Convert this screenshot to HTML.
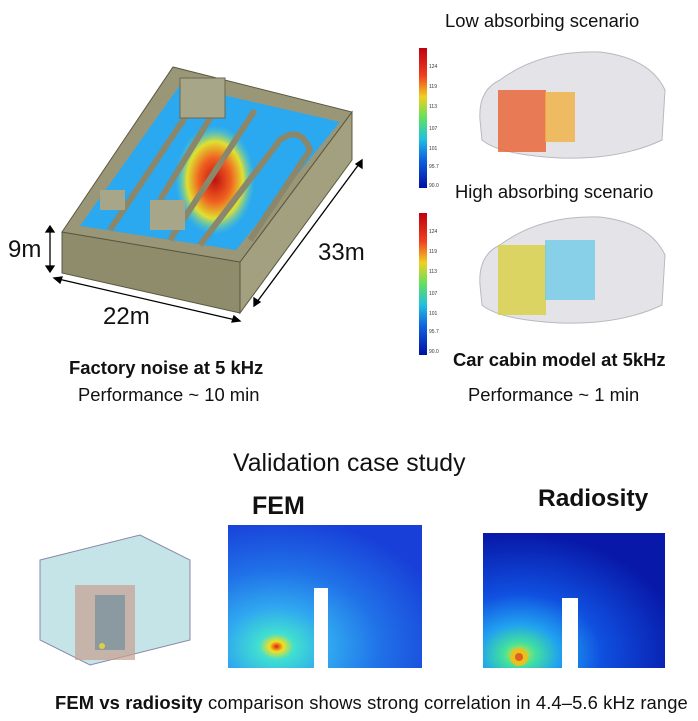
<!DOCTYPE html>
<html><head><style>
html,body{margin:0;padding:0;background:#fff;}
body{width:698px;height:721px;position:relative;overflow:hidden;font-family:"Liberation Sans",Arial,sans-serif;color:#111;}
.t{position:absolute;white-space:nowrap;line-height:1;}
</style></head><body>
<svg width="698" height="721" style="position:absolute;left:0;top:0">
<defs>
<linearGradient id="cb" x1="0" y1="0" x2="0" y2="1">
<stop offset="0" stop-color="#c00010"/><stop offset="0.2" stop-color="#f04020"/><stop offset="0.35" stop-color="#f0d020"/><stop offset="0.5" stop-color="#60e060"/><stop offset="0.65" stop-color="#20c0e0"/><stop offset="0.8" stop-color="#1060e0"/><stop offset="1" stop-color="#0010a0"/>
</linearGradient>
<radialGradient id="fem" cx="0.25" cy="0.85" r="0.9">
<stop offset="0" stop-color="#e02010"/><stop offset="0.04" stop-color="#f0e020"/><stop offset="0.1" stop-color="#40e0d0"/><stop offset="0.3" stop-color="#30a8f0"/><stop offset="0.6" stop-color="#2070e8"/><stop offset="1" stop-color="#1840d8"/>
</radialGradient>
<radialGradient id="rad" cx="0.2" cy="0.9" r="0.9">
<stop offset="0" stop-color="#f0e020"/><stop offset="0.1" stop-color="#40e0a0"/><stop offset="0.25" stop-color="#20a0f0"/><stop offset="0.5" stop-color="#1050e0"/><stop offset="1" stop-color="#0818a8"/>
</radialGradient>
<radialGradient id="hot" cx="0.5" cy="0.5" r="0.5">
<stop offset="0" stop-color="#c01010"/><stop offset="0.4" stop-color="#f06020"/><stop offset="0.7" stop-color="#e0e030"/><stop offset="1" stop-color="#50d0c0" stop-opacity="0"/>
</radialGradient>
</defs>
<polygon points="62,232 240,262 240,313 62,273" fill="#8f8c6c" stroke="#5a5840"/>
<polygon points="240,262 352,112 352,160 240,313" fill="#a3a080" stroke="#5a5840"/>
<polygon points="62,232 173,67 352,112 240,262" fill="#9a9778" stroke="#5a5840"/>
<polygon points="80,226 180,85 340,122 236,250" fill="#2aa8f0"/>
<ellipse cx="215" cy="180" rx="40" ry="55" fill="url(#hot)"/>
<g stroke="#8a876a" stroke-width="6" fill="none">
<path d="M110,230 L190,110 Q200,95 215,110 L160,200"/>
<path d="M170,240 L255,110"/>
<path d="M200,245 L280,140 Q300,125 310,150 L250,240"/>
</g>
<rect x="180" y="78" width="45" height="40" fill="#a8a688" stroke="#6a6850"/>
<rect x="150" y="200" width="35" height="30" fill="#a8a688"/>
<rect x="100" y="190" width="25" height="20" fill="#a8a688"/>
<g stroke="#000" stroke-width="1.3" fill="#000">
<line x1="50" y1="228" x2="50" y2="270"/><polygon points="46,232 54,232 50,226"/><polygon points="46,266 54,266 50,272"/>
<line x1="54" y1="278" x2="240" y2="321"/><polygon points="54,278 62,277 60,283"/><polygon points="240,321 232,322 234,316"/>
<line x1="254" y1="306" x2="362" y2="160"/><polygon points="254,306 254,298 260,302"/><polygon points="362,160 362,168 356,164"/>
</g>
<rect x="419" y="48" width="8" height="140" fill="url(#cb)"/>
<rect x="419" y="213" width="8" height="142" fill="url(#cb)"/>
<g font-size="5" fill="#333" font-family="Liberation Sans">
<text x="429" y="68">124</text><text x="429" y="88">119</text><text x="429" y="108">113</text><text x="429" y="130">107</text><text x="429" y="150">101</text><text x="429" y="168">95.7</text><text x="429" y="187">90.0</text>
<text x="429" y="233">124</text><text x="429" y="253">119</text><text x="429" y="273">113</text><text x="429" y="295">107</text><text x="429" y="315">101</text><text x="429" y="333">95.7</text><text x="429" y="353">90.0</text>
</g>
<path d="M480,120 Q478,90 500,80 Q540,50 600,52 Q650,58 665,90 L662,140 Q620,160 560,158 Q500,155 482,140Z" fill="#e4e4e8" stroke="#b8b8c0"/>
<rect x="498" y="90" width="48" height="62" fill="#e86030" opacity="0.8"/>
<rect x="545" y="92" width="30" height="50" fill="#f0b040" opacity="0.8"/>
<path d="M480,285 Q478,255 500,245 Q540,215 600,217 Q650,223 665,255 L662,305 Q620,325 560,323 Q500,320 482,305Z" fill="#e4e4e8" stroke="#b8b8c0"/>
<rect x="498" y="245" width="48" height="70" fill="#d8d040" opacity="0.8"/>
<rect x="545" y="240" width="50" height="60" fill="#60c8e8" opacity="0.7"/>
<polygon points="40,560 140,535 190,560 190,640 90,665 40,640" fill="#c4e4e8" stroke="#88a"/>
<rect x="75" y="585" width="60" height="75" fill="#c8a090" opacity="0.7"/>
<rect x="95" y="595" width="30" height="55" fill="#8a9aa0"/>
<circle cx="102" cy="646" r="3" fill="#e0d040"/>
<rect x="228" y="525" width="194" height="143" fill="url(#fem)"/>
<rect x="314" y="588" width="14" height="80" fill="#fff"/>
<rect x="483" y="533" width="182" height="135" fill="url(#rad)"/>
<circle cx="519" cy="657" r="9" fill="#e8c020"/><circle cx="519" cy="657" r="4" fill="#e06020"/>
<rect x="562" y="598" width="16" height="70" fill="#fff"/>
</svg>
<div class="t" style="left:8px;top:238px;font-size:24px">9m</div>
<div class="t" style="left:103px;top:305px;font-size:24px">22m</div>
<div class="t" style="left:318px;top:241px;font-size:24px">33m</div>
<div class="t" style="left:69px;top:359px;font-size:18.4px;font-weight:bold">Factory noise at 5 kHz</div>
<div class="t" style="left:78px;top:386px;font-size:18.4px">Performance ~ 10 min</div>
<div class="t" style="left:445px;top:12px;font-size:18.4px">Low absorbing scenario</div>
<div class="t" style="left:455px;top:183px;font-size:18.4px">High absorbing scenario</div>
<div class="t" style="left:453px;top:351px;font-size:18.4px;font-weight:bold">Car cabin model at 5kHz</div>
<div class="t" style="left:468px;top:386px;font-size:18.4px">Performance ~ 1 min</div>
<div class="t" style="left:233px;top:452px;font-size:24.8px">Validation case study</div>
<div class="t" style="left:252px;top:494px;font-size:25px;font-weight:bold">FEM</div>
<div class="t" style="left:538px;top:487px;font-size:24.5px;font-weight:bold">Radiosity</div>
<div class="t" style="left:55px;top:694px;font-size:18.4px;letter-spacing:0.1px"><b>FEM vs radiosity</b> comparison shows strong correlation in 4.4–5.6 kHz range</div>
</body></html>
